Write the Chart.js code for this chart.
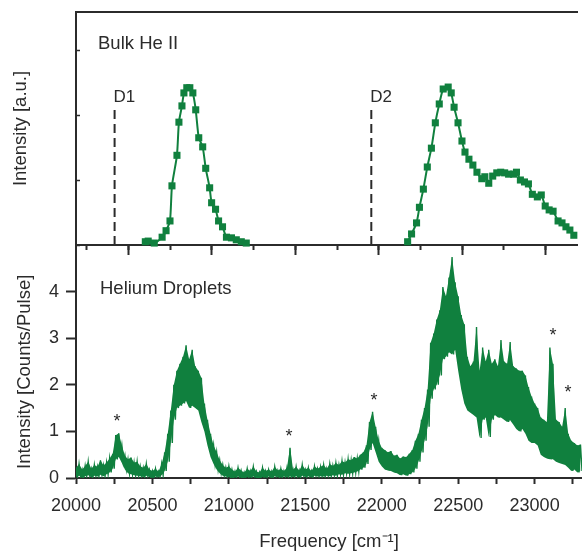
<!DOCTYPE html>
<html>
<head>
<meta charset="utf-8">
<script src="https://cdn.jsdelivr.net/npm/chart.js@4.4.0/dist/chart.umd.min.js"></script>
<style>
  html, body { margin: 0; padding: 0; background: #fff; }
  #wrap { position: relative; width: 582px; height: 554px; overflow: hidden; }
  canvas { position: absolute; left: 0; }
  #bulkChart { top: 0; z-index: 2; }
  #dropChart { top: 245px; z-index: 1; }
</style>
</head>
<body>
<div id="wrap">
  <canvas id="bulkChart" width="582" height="262"></canvas>
  <canvas id="dropChart" width="582" height="309"></canvas>
</div>
<script>
const GREEN = '#10803e';
const INK = '#2b2b2b';
const FONT = '"Liberation Sans", Arial, sans-serif';
Chart.defaults.font.family = FONT;
Chart.defaults.color = INK;

// Bulk He II, two bands (frequency in cm-1, intensity a.u.)
const bulkFreq1 = [20458, 20477, 20517, 20569, 20595, 20621, 20634, 20667, 20680, 20700,
                   20713, 20732, 20752, 20772, 20791, 20811, 20837, 20857, 20883, 20896,
                   20922, 20942, 20968, 20994, 21027, 21059, 21092, 21125];
const bulkInt1  = [0.05, 0.06, 0.03, 0.12, 0.22, 0.37, 0.91, 1.38, 1.89, 2.14,
                   2.34, 2.42, 2.42, 2.34, 2.08, 1.65, 1.51, 1.18, 0.88, 0.65,
                   0.55, 0.37, 0.28, 0.12, 0.11, 0.08, 0.05, 0.03];
const bulkFreq2 = [22191, 22217, 22250, 22269, 22295, 22321, 22348, 22374, 22400, 22426,
                   22459, 22479, 22498, 22524, 22550, 22570, 22596, 22622, 22649, 22681,
                   22701, 22727, 22753, 22780, 22806, 22832, 22858, 22891, 22910, 22936,
                   22963, 22989, 23015, 23048, 23074, 23100, 23126, 23152, 23185, 23211,
                   23237, 23263, 23289];
const bulkInt2  = [0.05, 0.17, 0.34, 0.58, 0.86, 1.20, 1.49, 1.88, 2.17, 2.40,
                   2.43, 2.34, 2.12, 1.88, 1.60, 1.43, 1.32, 1.23, 1.12, 1.02,
                   1.05, 0.95, 1.06, 1.11, 1.12, 1.11, 1.09, 1.09, 1.12, 1.00,
                   0.97, 0.94, 0.78, 0.74, 0.77, 0.60, 0.54, 0.52, 0.37, 0.34,
                   0.28, 0.23, 0.15];

// atomic lines
const lineNames = ['D1', 'D2'];
const lineFreq = [20255, 21951];
const lineTop = 2.09;

// helium droplets: upper and lower edge of the noisy trace, every 20 cm-1 from 20000
const dropStart = 20000;
const dropStep = 20;
const dropUpper = [
  0.22, 0.30, 0.18, 0.26, 0.35, 0.20, 0.28, 0.24, 0.38, 0.27,
  0.33, 0.42, 0.52, 0.92, 0.96, 0.70, 0.48, 0.40, 0.44, 0.33,
  0.35, 0.25, 0.22, 0.30, 0.18, 0.15, 0.20, 0.14, 0.30, 0.55,
  0.95, 1.45, 2.00, 2.30, 2.45, 2.60, 2.85, 2.55, 2.75, 2.40,
  2.30, 2.15, 1.60, 1.25, 0.95, 0.70, 0.55, 0.38, 0.28, 0.22,
  0.25, 0.18, 0.14, 0.22, 0.16, 0.12, 0.20, 0.15, 0.24, 0.14,
  0.12, 0.22, 0.15, 0.18, 0.14, 0.24, 0.16, 0.20, 0.15, 0.22,
  0.65, 0.18, 0.24, 0.16, 0.28, 0.18, 0.22, 0.15, 0.25, 0.20,
  0.24, 0.28, 0.20, 0.30, 0.26, 0.32, 0.28, 0.36, 0.33, 0.40,
  0.38, 0.45, 0.42, 0.50, 0.55, 0.70, 1.20, 1.42, 1.10, 0.80,
  0.65, 0.60, 0.55, 0.58, 0.48, 0.50, 0.42, 0.46, 0.45, 0.52,
  0.60, 0.80, 0.95, 1.25, 1.50, 1.90, 2.90, 3.10, 3.40, 3.60,
  4.10, 3.90, 4.30, 4.74, 4.20, 3.90, 3.50, 3.30, 2.60, 2.40,
  2.50, 3.24, 2.30, 2.80, 2.50, 2.75, 2.45, 2.55, 2.40, 2.96,
  2.50, 2.45, 2.92, 2.40, 2.35, 2.30, 2.30, 2.20, 1.95, 1.75,
  1.60, 1.50, 1.30, 1.25, 1.20, 2.80, 2.45, 1.25, 1.20, 1.10,
  1.50, 0.95, 0.80, 0.75, 0.70, 0.72
];
const dropLower = [
  0.02, 0.05, 0.00, 0.04, 0.06, 0.01, 0.05, 0.03, 0.07, 0.04,
  0.08, 0.12, 0.20, 0.40, 0.45, 0.32, 0.18, 0.10, 0.08, 0.06,
  0.05, 0.04, 0.02, 0.05, 0.02, 0.00, 0.03, 0.02, 0.06, 0.15,
  0.35, 0.75, 1.25, 1.50, 1.55, 1.60, 1.65, 1.50, 1.55, 1.50,
  1.45, 1.20, 1.00, 0.70, 0.45, 0.30, 0.18, 0.10, 0.05, 0.03,
  0.02, 0.00, 0.01, 0.03, 0.00, 0.00, 0.02, 0.01, 0.03, 0.00,
  0.00, 0.02, 0.01, 0.03, 0.00, 0.04, 0.02, 0.01, 0.03, 0.02,
  0.03, 0.02, 0.04, 0.01, 0.05, 0.02, 0.04, 0.01, 0.05, 0.03,
  0.04, 0.03, 0.05, 0.04, 0.06, 0.05, 0.08, 0.07, 0.10, 0.09,
  0.10, 0.12, 0.14, 0.18, 0.22, 0.30, 0.60, 0.75, 0.55, 0.35,
  0.25, 0.18, 0.16, 0.15, 0.12, 0.10, 0.06, 0.08, 0.05, 0.08,
  0.12, 0.20, 0.35, 0.55, 0.80, 1.10, 1.70, 1.90, 2.00, 2.20,
  2.55, 2.60, 2.70, 2.65, 2.75, 2.30, 1.90, 1.60, 1.45, 1.40,
  1.35, 1.30, 0.86, 1.25, 1.30, 0.88, 1.25, 1.35, 1.30, 1.30,
  1.25, 1.20, 1.24, 1.15, 1.05, 1.00, 1.05, 0.95, 0.80, 0.75,
  0.75, 0.70, 0.50, 0.45, 0.42, 0.40, 0.40, 0.35, 0.32, 0.30,
  0.28, 0.22, 0.15, 0.18, 0.12, 0.15
];

// peaks marked with *
const starFreq = [20268, 21393, 21949, 23120, 23218];
const starY = [1.31, 0.99, 1.76, 3.15, 1.93];

// frequency axis
const xMin = 20000, xMax = 23310;
const freqTicks = [20000, 20250, 20500, 20750, 21000, 21250, 21500, 21750,
                   22000, 22250, 22500, 22750, 23000, 23250];
const freqLabels = ['20000', '', '20500', '', '21000', '', '21500', '',
                    '22000', '', '22500', '', '23000', ''];

const pts = (xs, ys) => xs.map((x, i) => ({ x: x, y: ys[i] }));

// band edges on the same grid, and a zig-zag between them for the spiky look
const dropFreq = dropUpper.map((u, i) => dropStart + i * dropStep);
const dropPoints = [];
dropUpper.forEach((u, i) => {
  dropPoints.push({ x: dropFreq[i], y: u }, { x: dropFreq[i] + dropStep / 2, y: dropLower[i] });
});

function fixWidth(w) {
  return s => { s.width = w; s.paddingTop = 0; s.paddingBottom = 0; };
}
function fixHeight(h) {
  return s => { s.height = h; s.paddingLeft = 0; s.paddingRight = 0; };
}

const bulkNotes = {
  id: 'bulkNotes',
  afterDatasetsDraw(chart) {
    const { ctx, chartArea, scales } = chart;
    ctx.save();
    ctx.fillStyle = INK;
    ctx.textBaseline = 'middle';
    ctx.font = '18.5px ' + FONT;
    ctx.fillText('Bulk He II', chartArea.left + 22, chartArea.top + 32);
    ctx.font = '17px ' + FONT;
    lineNames.forEach((name, i) => {
      ctx.fillText(name, scales.x.getPixelForValue(lineFreq[i]) - 1, 97);
    });
    ctx.restore();
  }
};

const dropNotes = {
  id: 'dropNotes',
  afterDatasetsDraw(chart) {
    const { ctx, chartArea, scales } = chart;
    ctx.save();
    ctx.fillStyle = INK;
    ctx.textBaseline = 'middle';
    ctx.font = '18.5px ' + FONT;
    ctx.fillText('Helium Droplets', chartArea.left + 24, chartArea.top + 44);
    ctx.font = '18px ' + FONT;
    ctx.textAlign = 'center';
    ctx.textBaseline = 'alphabetic';
    starFreq.forEach((f, i) => {
      ctx.fillText('*', scales.x.getPixelForValue(f), scales.y.getPixelForValue(starY[i]) + 10);
    });
    ctx.restore();
  }
};

const bandStyle = {
  showLine: true, borderColor: GREEN, backgroundColor: GREEN, borderWidth: 2,
  pointStyle: 'rect', pointRadius: 5, pointBorderWidth: 0, tension: 0.2,
  clip: false, xAxisID: 'x', yAxisID: 'y'
};

new Chart(document.getElementById('bulkChart'), {
  type: 'scatter',
  data: {
    datasets: [
      Object.assign({ data: pts(bulkFreq1, bulkInt1) }, bandStyle),
      Object.assign({ data: pts(bulkFreq2, bulkInt2) }, bandStyle)
    ].concat(lineFreq.map(f => ({
      data: [{ x: f, y: 0 }, { x: f, y: lineTop }],
      showLine: true, borderColor: INK, borderWidth: 2, borderDash: [9, 5],
      pointRadius: 0, xAxisID: 'x', yAxisID: 'y'
    })))
  },
  options: {
    responsive: false,
    animation: false,
    layout: { padding: { top: 12, bottom: 17, left: 0, right: 0 } },
    plugins: { legend: { display: false }, tooltip: { enabled: false } },
    scales: {
      x: { type: 'linear', display: false, min: xMin, max: xMax },
      y: {
        min: 0, max: 3.585, position: 'left',
        ticks: { display: false, stepSize: 1, includeBounds: false },
        grid: { drawOnChartArea: false, tickLength: -4, tickColor: INK, tickWidth: 1.5 },
        border: { color: INK, width: 2 },
        title: { display: true, text: 'Intensity [a.u.]', color: INK, font: { size: 18.5 }, padding: { top: 10, bottom: 0 } },
        afterFit: fixWidth(76)
      },
      xTop: {
        type: 'linear', position: 'top', min: 0, max: 1,
        ticks: { display: false },
        grid: { drawOnChartArea: false, drawTicks: false },
        border: { color: INK, width: 2 },
        afterFit: fixHeight(0)
      },
      xMinor: {
        type: 'linear', position: 'bottom', min: -0.261, max: 11.757,
        ticks: { display: false, stepSize: 1, includeBounds: false, maxTicksLimit: 100 },
        grid: { drawOnChartArea: false, tickLength: 5, tickColor: INK, tickWidth: 2 },
        border: { color: INK, width: 2 },
        afterFit: fixHeight(0)
      },
      xMajor: {
        type: 'linear', position: 'bottom', min: -1.261, max: 10.757,
        ticks: { display: false, stepSize: 2, includeBounds: false, maxTicksLimit: 100 },
        grid: { drawOnChartArea: false, tickLength: 10, tickColor: INK, tickWidth: 2 },
        border: { display: false },
        afterFit: fixHeight(0)
      }
    }
  },
  plugins: [bulkNotes]
});

new Chart(document.getElementById('dropChart'), {
  type: 'scatter',
  data: {
    datasets: [
      { data: pts(dropFreq, dropLower), showLine: true, borderWidth: 0, pointRadius: 0, fill: false },
      { data: pts(dropFreq, dropUpper), showLine: true, borderWidth: 0, pointRadius: 0, fill: '-1', backgroundColor: GREEN },
      { data: dropPoints, showLine: true, borderColor: GREEN, borderWidth: 1.4, pointRadius: 0, tension: 0 }
    ]
  },
  options: {
    responsive: false,
    animation: false,
    layout: { padding: 0 },
    plugins: { legend: { display: false }, tooltip: { enabled: false } },
    scales: {
      x: {
        type: 'linear', position: 'bottom', min: xMin, max: xMax,
        afterBuildTicks: s => { s.ticks = freqTicks.map(v => ({ value: v })); },
        ticks: {
          autoSkip: false, maxRotation: 0, padding: 11, color: INK, font: { size: 18 },
          callback: (v, i) => freqLabels[i]
        },
        grid: { drawOnChartArea: false, tickLength: 6, tickColor: INK, tickWidth: 2 },
        border: { color: INK, width: 2 },
        title: { display: true, text: 'Frequency [cm⁻¹]', color: INK, font: { size: 18.5 }, padding: { top: 0, bottom: 1 } },
        afterFit: fixHeight(76)
      },
      y: {
        min: 0, max: 5,
        ticks: { stepSize: 1, padding: 7, color: INK, font: { size: 18 }, callback: v => (v < 5 ? String(v) : '') },
        grid: {
          drawOnChartArea: false, tickLength: 10, tickWidth: 2,
          tickColor: c => (c.tick && c.tick.value === 5 ? 'rgba(0,0,0,0)' : INK)
        },
        border: { color: INK, width: 2 },
        title: { display: true, text: 'Intensity [Counts/Pulse]    ', color: INK, font: { size: 18.5 }, padding: { top: 14, bottom: 0 } },
        afterFit: fixWidth(76)
      }
    }
  },
  plugins: [dropNotes]
});
</script>
</body>
</html>
